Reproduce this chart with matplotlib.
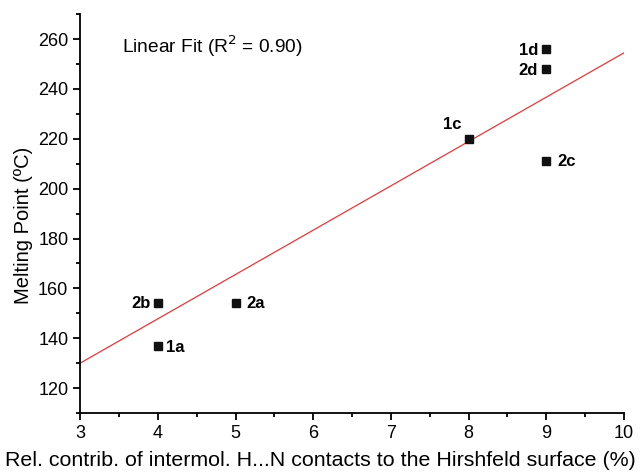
import matplotlib
matplotlib.use('Agg')
import matplotlib.pyplot as plt
from matplotlib.ticker import MultipleLocator

plt.rcParams['font.family'] = ['Liberation Sans', 'DejaVu Sans']

# data
names = ['1a', '2b', '2a', '1c', '2c', '2d', '1d']
hn_contrib = [4, 4, 5, 8, 9, 9, 9]
melting_pt = [137, 154, 154, 220, 211, 248, 256]
# label placement (offset in points, horizontal alignment)
lbl_pos = {
    '1a': ((6, -1), 'left'),
    '2b': ((-5, 0), 'right'),
    '2a': ((8, 0), 'left'),
    '1c': ((-5, 10), 'right'),
    '2c': ((8, 0), 'left'),
    '2d': ((-6, -1), 'right'),
    '1d': ((-6, -1), 'right'),
}
# linear fit line end points
fit_x = [3, 10]
fit_y = [130, 254.5]

fig = plt.figure(figsize=(6.41, 4.72), dpi=100)
ax = fig.add_axes([0.125, 0.125, 0.8485, 0.845])

ax.plot(fit_x, fit_y, color='#e8393a', lw=0.9, zorder=2)
ax.plot(hn_contrib, melting_pt, 's', color='#111111', ms=6.3, zorder=3)

for n, x, y in zip(names, hn_contrib, melting_pt):
    off, ha = lbl_pos[n]
    ax.annotate(n, (x, y), xytext=off, textcoords='offset points',
                ha=ha, va='center', fontsize=12, fontweight='bold')

ax.text(3.54, 257, 'Linear Fit (R$^2$ = 0.90)', fontsize=13.8, va='center')

ax.set_xlim(3, 10)
ax.set_ylim(110, 270)
ax.xaxis.set_major_locator(MultipleLocator(1))
ax.xaxis.set_minor_locator(MultipleLocator(0.5))
ax.yaxis.set_minor_locator(MultipleLocator(10))
ax.set_yticks(range(120, 261, 20))

for s in ['top', 'right']:
    ax.spines[s].set_visible(False)
for s in ['left', 'bottom']:
    ax.spines[s].set_linewidth(1.3)
ax.tick_params(which='major', direction='out', length=5, width=1.3, labelsize=13)
ax.tick_params(which='minor', direction='out', length=3, width=1.3)

ax.set_xlabel('Rel. contrib. of intermol. H...N contacts to the Hirshfeld surface (%)',
              fontsize=15.4)
ax.xaxis.set_label_coords(0.442, -0.095)
ax.set_ylabel('Melting Point (ºC)', fontsize=14.5)
ax.yaxis.set_label_coords(-0.086, 0.471)

plt.savefig('out.png', dpi=100)
